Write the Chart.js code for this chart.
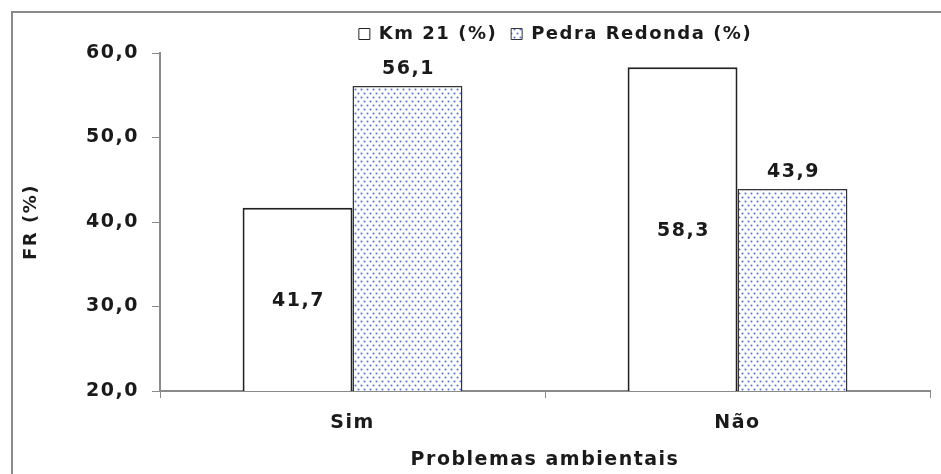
<!DOCTYPE html>
<html>
<head>
<meta charset="utf-8">
<script src="https://cdn.jsdelivr.net/npm/chart.js@4/dist/chart.umd.min.js"></script>
<style>
  body { margin: 0; background: #fff; }
  #wrap { position: relative; width: 941px; height: 474px; }
  #frame { position: absolute; left: 11px; top: 11px; right: 0; bottom: 0;
           border-top: 2px solid #8a8a8a; border-left: 2px solid #8a8a8a; }
  #chart { position: absolute; left: 0; top: 0; }
</style>
</head>
<body>
<div id="wrap">
  <div id="frame"></div>
  <canvas id="chart" width="941" height="474"></canvas>
</div>
<script>
// data
const categories = ['Sim', 'Não'];
const seriesNames = ['Km 21 (%)', 'Pedra Redonda (%)'];
const km21 = [41.7, 58.3];
const pedraRedonda = [56.1, 43.9];
const yTicks = [20, 30, 40, 50, 60];

const FONT = '"DejaVu Sans", "Liberation Sans", Arial, sans-serif';
const fmt = v => v.toFixed(1).replace('.', ',');

// small dotted tile for the Pedra Redonda bars
function dotPattern() {
  const c = document.createElement('canvas');
  c.width = 6;
  c.height = 8;
  const g = c.getContext('2d');
  g.fillStyle = '#ffffff';
  g.fillRect(0, 0, 6, 8);
  g.fillStyle = '#5576d0';
  [[1.5, 1.5], [4.5, 5.5]].forEach(([x, y]) => {
    g.beginPath();
    g.arc(x, y, 1.05, 0, Math.PI * 2);
    g.fill();
  });
  return g.createPattern(c, 'repeat');
}

const ctx = document.getElementById('chart').getContext('2d');
const dots = dotPattern();

// wide lettering like the original figure
const spacing = {
  id: 'spacing',
  beforeInit(chart) { chart.ctx.letterSpacing = '1.5px'; },
  beforeDraw(chart) { chart.ctx.letterSpacing = '1.5px'; }
};

// the original legend sits right of centre
const legendShift = {
  id: 'legendShift',
  afterLayout(chart) {
    chart.legend.left += 71;
    chart.legend.right += 71;
  }
};

// value labels: inside for Km 21, above for Pedra Redonda
const valueLabels = {
  id: 'valueLabels',
  afterDatasetsDraw(chart) {
    const c = chart.ctx;
    const bottom = chart.chartArea.bottom;
    c.save();
    c.font = 'bold 19px ' + FONT;
    c.fillStyle = '#1a1a1a';
    c.textAlign = 'center';
    c.textBaseline = 'middle';
    chart.data.datasets.forEach((ds, i) => {
      chart.getDatasetMeta(i).data.forEach((bar, j) => {
        const base = Math.min(bar.base, bottom);
        const y = i === 0 ? (bar.y + base) / 2 + 2 : bar.y - 17;
        c.fillText(fmt(ds.data[j]), bar.x + 1, y);
      });
    });
    c.restore();
  }
};

new Chart(ctx, {
  type: 'bar',
  data: {
    labels: categories,
    datasets: [
      {
        label: seriesNames[0],
        data: km21,
        backgroundColor: '#ffffff',
        borderColor: '#222222',
        borderWidth: 2
      },
      {
        label: seriesNames[1],
        data: pedraRedonda,
        backgroundColor: dots,
        borderColor: '#333333',
        borderWidth: 1.5
      }
    ]
  },
  options: {
    responsive: false,
    animation: false,
    categoryPercentage: 0.571,
    barPercentage: 1,
    layout: { padding: { top: 11, right: 11, bottom: 0, left: 0 } },
    plugins: {
      tooltip: { enabled: false },
      legend: {
        position: 'top',
        labels: {
          color: '#1a1a1a',
          font: { family: FONT, size: 18, weight: 'bold' },
          boxWidth: 11,
          boxHeight: 11,
          padding: 14,
          generateLabels(chart) {
            const items = Chart.defaults.plugins.legend.labels.generateLabels(chart);
            items.forEach(it => { it.lineWidth = 1; });
            return items;
          }
        }
      }
    },
    scales: {
      x: {
        afterFit(scale) { scale.height = 83; },
        grid: { display: true, drawOnChartArea: false, offset: true, tickLength: 7, color: '#8a8a8a' },
        border: { color: '#8a8a8a', width: 2 },
        ticks: {
          color: '#1a1a1a',
          padding: 14,
          font: { family: FONT, size: 19, weight: 'bold' }
        },
        title: {
          display: true,
          text: 'Problemas ambientais',
          color: '#1a1a1a',
          padding: { top: 0, bottom: 3 },
          font: { family: FONT, size: 19, weight: 'bold' }
        }
      },
      y: {
        min: 20,
        max: 60,
        afterFit(scale) { scale.width = 160; },
        afterBuildTicks(scale) { scale.ticks = yTicks.map(v => ({ value: v })); },
        grid: { display: true, drawOnChartArea: false, tickLength: 8, color: '#8a8a8a' },
        border: { color: '#8a8a8a', width: 2 },
        ticks: {
          color: '#1a1a1a',
          padding: 13,
          font: { family: FONT, size: 19, weight: 'bold' },
          callback: v => fmt(v)
        },
        title: {
          display: true,
          text: 'FR (%)',
          color: '#1a1a1a',
          padding: { top: 21, bottom: 0 },
          font: { family: FONT, size: 18, weight: 'bold' }
        }
      }
    }
  },
  plugins: [spacing, legendShift, valueLabels]
});
</script>
</body>
</html>
